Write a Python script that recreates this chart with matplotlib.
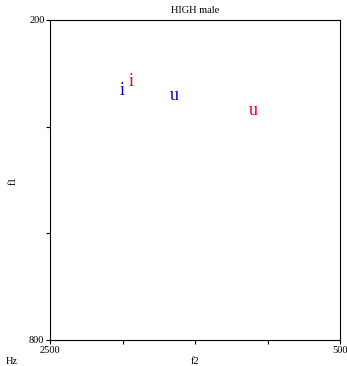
import matplotlib.pyplot as plt

plt.rcParams['font.family'] = ['Liberation Serif', 'DejaVu Serif']

vocales = ['i', 'u', 'i', 'u']
f2 = [2005, 1645, 1940, 1100]
f1 = [332, 342, 316, 370]
colores = ['#0000dd', '#0000dd', '#ee0000', '#ee0000']

fig = plt.figure(figsize=(3.47, 3.66), dpi=100)
ax = fig.add_axes([50 / 347, 26 / 366, 290 / 347, 320 / 366])

for v, x, y, c in zip(vocales, f2, f1, colores):
    ax.text(x, y, v, color=c, fontsize=13, ha='center', va='center')

ax.set_xlim(2500, 500)
ax.set_ylim(800, 200)
ax.set_xticks([2500, 2000, 1500, 1000, 500])
ax.set_xticklabels(['2500', '', '', '', '500'])
ax.set_yticks([200, 400, 600, 800])
ax.set_yticklabels(['200', '', '', '800'])
ax.tick_params(labelsize=7.5, length=3, width=0.8, pad=1)
for s in ax.spines.values():
    s.set_linewidth(0.8)

ax.set_title('HIGH male', fontsize=7.5, pad=5)
# etiquetas de ejes puestas a mano, como en el original
fig.text(195 / 347, 1 - 362 / 366, 'f2', fontsize=7.5, ha='center', va='center')
fig.text(13 / 347, 1 - 181 / 366, 'f1', fontsize=7.5, ha='center', va='center', rotation=90)
fig.text(12 / 347, 1 - 362 / 366, 'Hz', fontsize=7.5, ha='center', va='center')

fig.savefig('out.png', dpi=100)
